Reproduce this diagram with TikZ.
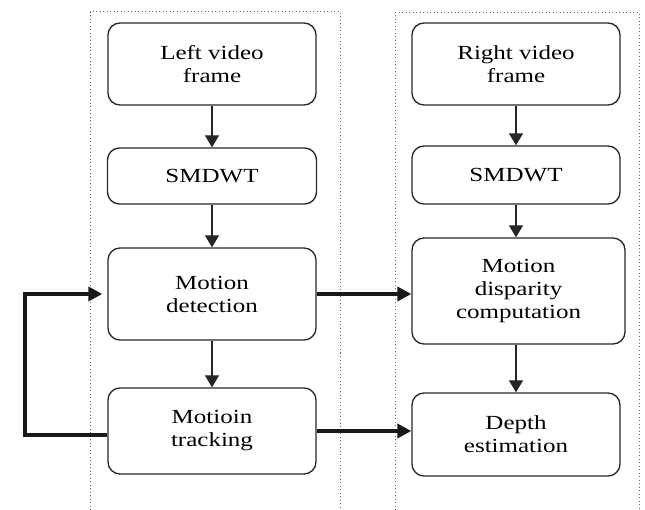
\documentclass[tikz,border=0pt]{standalone}
\usepackage{fontspec}
\setmainfont{Liberation Serif}[FakeStretch=1.25]
\usetikzlibrary{arrows.meta}

\tikzset{
  blk/.style={draw=black!85, line width=1.3pt, rounded corners=12pt, align=center,
    inner sep=0pt, font=\fontsize{20}{23}\selectfont},
  flow/.style={draw=black!85, line width=1.2pt, -{Triangle[width=14pt,length=12pt]}},
  link/.style={draw=black!90, line width=4pt, -{Triangle[width=14pt,length=14pt]}},
  grp/.style={draw=black!60, line width=1pt, dash pattern=on 1pt off 2.5pt},
}

\begin{document}
\begin{tikzpicture}[x=1pt, y=-1pt]
    \useasboundingbox (0,0) rectangle (645,510);
    \draw[grp] (90,510) |- (340,12) -- (340,510);
    \draw[grp] (395,510) |- (639,13) -- (639,510);

    \node[blk, minimum width=208pt, minimum height=82pt]  (lvf)  at (212,64)    {Left video\\frame};
    \node[blk, minimum width=209pt, minimum height=56pt]  (lsm)  at (212,176)   {SMDWT};
    \node[blk, minimum width=208pt, minimum height=92pt]  (det)  at (212,294)   {Motion\\detection};
    \node[blk, minimum width=208pt, minimum height=86pt]  (trk)  at (212,431)   {Motioin\\tracking};
    \node[blk, minimum width=208pt, minimum height=82pt]  (rvf)  at (516,64)    {Right video\\frame};
    \node[blk, minimum width=208pt, minimum height=58pt]  (rsm)  at (516,175)   {SMDWT};
    \node[blk, minimum width=213pt, minimum height=106pt] (disp) at (518.5,291) {Motion\\disparity\\computation};
    \node[blk, minimum width=208pt, minimum height=83pt]  (dep)  at (516,434.5) {Depth\\estimation};
    \coordinate (fbx) at (25,0);

    \draw[flow] (lvf) -- (lsm);
    \draw[flow] (lsm) -- (det);
    \draw[flow] (det) -- (trk);
    \draw[flow] (rvf) -- (rsm);
    \draw[flow] (rsm.south) -- (rsm.south |- disp.north);
    \draw[flow] (disp.south -| rsm.south) -- (rsm.south |- dep.north);

    \draw[link] (det.east) -- (det.east -| disp.west);
    \draw[link] (trk.east) -- (trk.east -| dep.west);
    \draw[link] ([yshift=-4pt]trk.west) -- ([yshift=-4pt]trk.west -| fbx) |- ([xshift=-5pt]det.west);
\end{tikzpicture}
\end{document}
